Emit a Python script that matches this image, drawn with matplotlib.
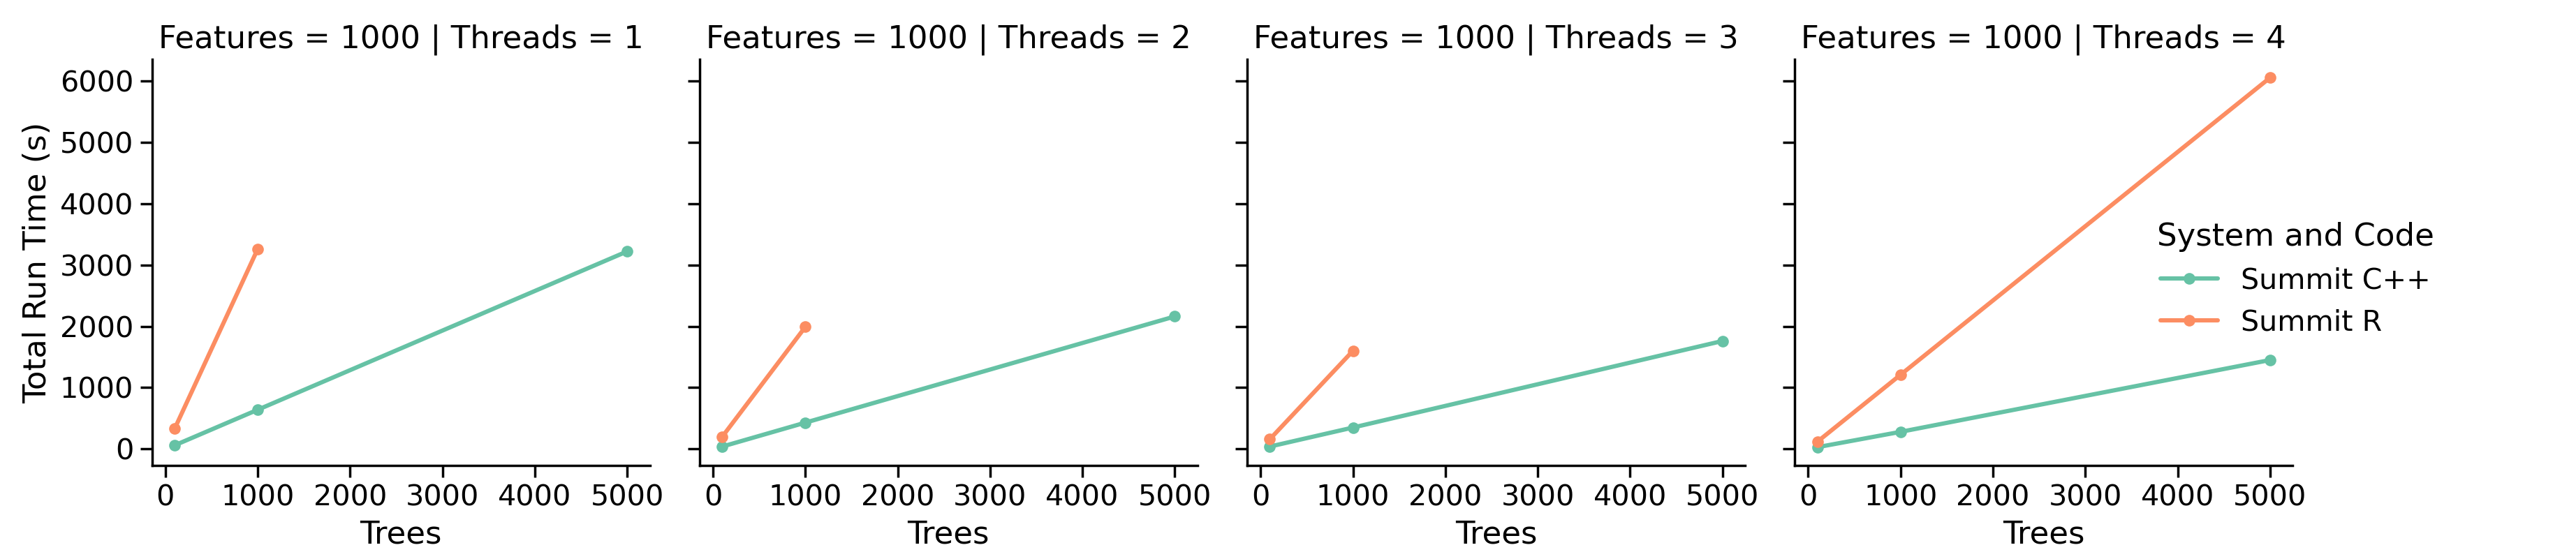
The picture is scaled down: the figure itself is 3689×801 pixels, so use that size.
import matplotlib
matplotlib.use('Agg')
import matplotlib.pyplot as plt
import pandas as pd
import seaborn as sns

threads = [1, 2, 3, 4]
trees_cpp = [100, 1000, 5000]
trees_r = {1: [100, 1000], 2: [100, 1000], 3: [100, 1000], 4: [100, 1000, 5000]}
time_cpp = {1: [60, 640, 3220], 2: [40, 430, 2160], 3: [40, 350, 1760], 4: [30, 280, 1450]}
time_r = {1: [330, 3260], 2: [200, 1990], 3: [160, 1600], 4: [120, 1210, 6050]}

rows = []
for t in threads:
    for x, y in zip(trees_cpp, time_cpp[t]):
        rows.append({'Features': 1000, 'Threads': t, 'Trees': x,
                     'Total Run Time (s)': y, 'System and Code': 'Summit C++'})
    for x, y in zip(trees_r[t], time_r[t]):
        rows.append({'Features': 1000, 'Threads': t, 'Trees': x,
                     'Total Run Time (s)': y, 'System and Code': 'Summit R'})
df = pd.DataFrame(rows)

sns.set_style('ticks')
sns.set_context('notebook', font_scale=1.35)
plt.rcParams['text.color'] = 'black'
plt.rcParams['axes.labelcolor'] = 'black'
plt.rcParams['xtick.color'] = 'black'
plt.rcParams['ytick.color'] = 'black'
plt.rcParams['axes.edgecolor'] = 'black'
g = sns.relplot(data=df, x='Trees', y='Total Run Time (s)', hue='System and Code',
                col='Threads', row='Features', kind='line', marker='o',
                markeredgewidth=0, markersize=6, palette='Set2', linewidth=2.2,
                height=3.7, aspect=1.0)
g.fig.set_size_inches(18.445, 4.005)
g.set(xticks=[0, 1000, 2000, 3000, 4000, 5000], yticks=range(0, 7000, 1000))
g.fig.subplots_adjust(left=0.059, right=0.89, bottom=0.167, top=0.894, wspace=0.1)
g._legend.set_bbox_to_anchor((0.955, 0.5))
g.fig.savefig('out.png', dpi=200)
